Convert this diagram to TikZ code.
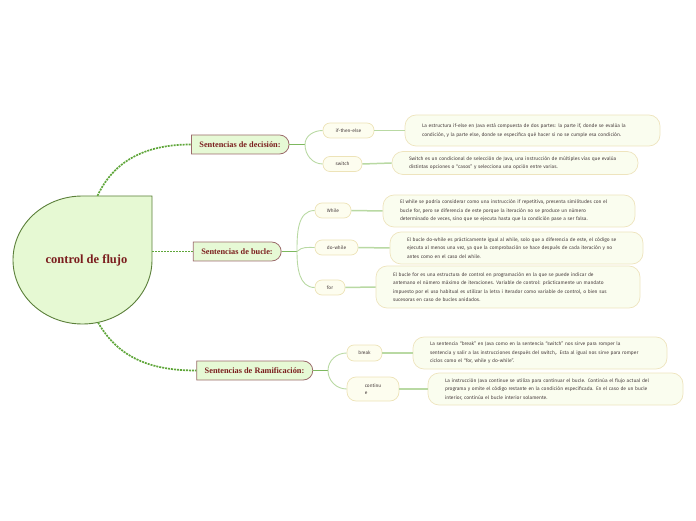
\documentclass[tikz,border=0pt]{standalone}
\usepackage{fontspec}
\setmainfont{Fira Sans}
\newfontfamily\slabfont{Liberation Serif}
\usepackage{tikz}
\usetikzlibrary{shapes.geometric,shapes.misc}
\definecolor{rootfill}{HTML}{E6F9D3}
\definecolor{rootedge}{HTML}{5B7F3A}
\definecolor{branchfill}{HTML}{E6F9D5}
\definecolor{branchedge}{HTML}{9B6B6B}
\definecolor{titletext}{HTML}{7B1E1E}
\definecolor{dotgreen}{HTML}{5FA63A}
\definecolor{forkgreen}{HTML}{7DB85E}
\definecolor{twiggreen}{HTML}{B9D9A3}
\definecolor{subfill}{HTML}{FDFDEF}
\definecolor{subedge}{HTML}{EDE3B8}
\definecolor{descfill}{HTML}{FAFDEF}
\definecolor{descedge}{HTML}{EEE4BE}
\definecolor{desctext}{HTML}{4A3F3F}

\begin{document}
\begin{tikzpicture}[x=1pt,y=1pt,
  rootline/.style={draw=rootedge,fill=rootfill,line width=0.9pt},
  branch/.style={rounded rectangle,rounded rectangle west arc=none,draw=branchedge,fill=branchfill,
    line width=0.8pt,minimum height=19pt,inner xsep=8pt,inner ysep=0pt,
    font=\slabfont\bfseries\fontsize{8.3}{9}\selectfont,text=titletext},
  subbox/.style={draw=subedge,fill=subfill,rounded corners=7pt,line width=0.7pt,minimum height=15pt,
    inner sep=0pt,font=\fontsize{4.8}{7}\selectfont,text=desctext},
  descbox/.style={draw=descedge,fill=descfill,rounded corners=11pt,line width=0.7pt,minimum height=31pt,
    inner xsep=17pt,inner ysep=0pt,align=left,text width=#1,font=\fontsize{4.9}{8.5}\selectfont,text=desctext},
  dotlink/.style={dotgreen,line width=1.7pt,dash pattern=on 2pt off 1pt},
  forkline/.style={forkgreen,line width=1.5pt},
  twig/.style={twiggreen,line width=0.9pt},
  leaf/.style={twiggreen,line width=1.5pt}]
\useasboundingbox (0,0) rectangle (696,520);

% central topic
\path[rootline] (82.5,324) -- (152,324) -- (152,260)
  arc[start angle=0,end angle=-270,x radius=69.5pt,y radius=64pt] -- cycle;
\node[ellipse,minimum width=139pt,minimum height=128pt,inner sep=0pt,
  font=\slabfont\bfseries\fontsize{12.5}{14}\selectfont,text=titletext] (root) at (82.5,260) {\hspace{8pt}control de flujo};

% main branches
\node[branch] (dec) at (240,375.5) {Sentencias de decisión:};
\node[branch] (buc) at (237,268.5) {Sentencias de bucle:};
\node[branch] (ram) at (254.5,149.5) {Sentencias de Ramificación:};

\draw[dotlink] ([xshift=15pt]root.north) to[out=65,in=180] (dec.west);
\draw[dotlink] ([yshift=8.5pt]root.east) -- (buc.west);
\draw[dotlink] (root.-76) to[out=-60,in=180] (ram.west);

% sub topics
\node[subbox,minimum width=51pt] (ite) at (348.5,389.5) {if-then-else};
\node[subbox,minimum width=39pt] (sw) at (342.5,356) {switch};
\node[subbox,minimum width=36pt] (wh) at (333,309.5) {While};
\node[subbox,minimum width=43pt] (dw) at (336.5,272.5) {do-while};
\node[subbox,minimum width=30pt] (fo) at (330,232.5) {for};
\node[subbox,minimum width=35pt,minimum height=16pt] (br) at (364.5,167) {break};
\node[subbox,minimum width=52pt,minimum height=24pt,rounded corners=9pt,align=left] (co) at (373,131) {continu\\e};

\coordinate (decfork) at (305,375.5);
\coordinate (bucfork) at (297,268.5);
\coordinate (ramfork) at (328,149.5);
\draw[forkline] (dec.east) -- (decfork);
\draw[forkline] (buc.east) -- (bucfork);
\draw[forkline] (ram.east) -- (ramfork);
\draw[twig] (decfork) to[out=90,in=180] (ite.west);
\draw[twig] (decfork) to[out=-90,in=180] (sw.west);
\draw[twig] (bucfork) to[out=90,in=180] (wh.west);
\draw[twig] (bucfork) to[out=45,in=180] (dw.west);
\draw[twig] (bucfork) to[out=-90,in=180] (fo.west);
\draw[twig] (ramfork) to[out=90,in=180] (br.west);
\draw[twig] (ramfork) to[out=-90,in=180] (co.west);

% descriptions
\node[descbox=221pt] (d1) at (532.5,389.5) {La estructura if-else en Java está compuesta de dos partes: la parte if, donde se evalúa la\\condición, y la parte else, donde se especifica qué hacer si no se cumple esa condición.};
\node[descbox=212pt,minimum height=23pt] (d2) at (515,357) {Switch es un condicional de selección de Java, una instrucción de múltiples vías que evalúa\\distintas opciones o “casos” y selecciona una opción entre varias.};
\node[descbox=218pt,minimum height=32pt] (d3) at (509,309) {El while se podría considerar como una instrucción if repetitiva, presenta similitudes con el\\bucle for, pero se diferencia de este porque la iteración no se produce un número\\determinado de veces, sino que se ejecuta hasta que la condición pase a ser falsa.};
\node[descbox=219pt,minimum height=32pt] (d4) at (516.5,272) {El bucle do-while es prácticamente igual al while, solo que a diferencia de este, el código se\\ejecuta al menos una vez, ya que la comprobación se hace después de cada iteración y no\\antes como en el caso del while.};
\node[descbox=230pt,minimum height=42pt] (d5) at (508,233) {El bucle for es una estructura de control en programación en la que se puede indicar de\\antemano el número máximo de iteraciones. Variable de control: prácticamente un mandato\\impuesto por el uso habitual es utilizar la letra i Iterador como variable de control, o bien sus\\sucesoras en caso de bucles anidados.};
\node[descbox=220pt,minimum height=32pt] (d6) at (540,167) {La sentencia “break” en Java como en la sentencia “switch” nos sirve para romper la\\sentencia y salir a las instrucciones después del switch,. Esta al igual nos sirve para romper\\ciclos como el “for, while y do-while”.};
\node[descbox=221pt,minimum height=32pt] (d7) at (555.5,131) {La instrucción Java continue se utiliza para continuar el bucle. Continúa el flujo actual del\\programa y omite el código restante en la condición especificada. En el caso de un bucle\\interior, continúa el bucle interior solamente.};

\foreach \s/\d in {ite/d1,sw/d2,wh/d3,dw/d4,fo/d5,br/d6,co/d7}
  \draw[leaf] (\s.east) -- (\d.west);
\end{tikzpicture}
\end{document}
